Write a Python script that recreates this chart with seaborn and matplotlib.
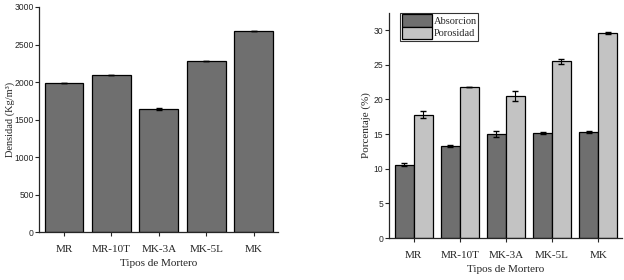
import pandas as pd
import numpy as np
import seaborn as sns
import matplotlib.pyplot as plt

morteros = ['MR', 'MR-10T', 'MK-3A', 'MK-5L', 'MK']
densidad = [1990, 2100, 1640, 2280, 2680]
densidad_err = [0, 0, 10, 0, 0]
absorcion = [10.6, 13.3, 15.0, 15.1, 15.3]
absorcion_err = [0.2, 0.1, 0.45, 0.15, 0.2]
porosidad = [17.8, 21.8, 20.5, 25.5, 29.6]
porosidad_err = [0.5, 0.05, 0.7, 0.35, 0.15]

dark = '#6f6f6f'
light = '#c3c3c3'

sns.set_style('ticks')
plt.rcParams['font.family'] = ['Liberation Serif', 'DejaVu Serif']

fig = plt.figure(figsize=(6.24, 2.8), dpi=100)
ax1 = fig.add_axes([0.063, 0.171, 0.383, 0.804])
ax2 = fig.add_axes([0.623, 0.15, 0.374, 0.804])

# densidad
df1 = pd.DataFrame({'Mortero': morteros, 'Densidad': densidad})
sns.barplot(x='Mortero', y='Densidad', data=df1, color=dark, edgecolor='black',
            linewidth=0.9, width=0.82, saturation=1, ax=ax1)
xs = [p.get_x() + p.get_width() / 2 for p in ax1.patches]
ax1.errorbar(xs, densidad, yerr=densidad_err, fmt='none', ecolor='black',
             elinewidth=0.8, capsize=2)
ax1.set_ylim(0, 3000)
ax1.set_xlim(-0.52, 4.52)
ax1.set_ylabel('Densidad (Kg/m³)', fontsize=7.5)
ax1.yaxis.set_label_coords(-0.1, 0.5)
ax1.set_xlabel('Tipos de Mortero', fontsize=8, labelpad=4)

# absorcion / porosidad
df2 = pd.DataFrame({
    'Mortero': morteros * 2,
    'Valor': absorcion + porosidad,
    'Serie': ['Absorcion'] * 5 + ['Porosidad'] * 5,
})
sns.barplot(x='Mortero', y='Valor', hue='Serie', data=df2,
            palette=[dark, light], edgecolor='black', linewidth=0.9,
            width=0.82, saturation=1, ax=ax2)
bars = [p for p in ax2.patches if p.get_height() > 0][:10]
bx = [p.get_x() + p.get_width() / 2 for p in bars]
ax2.errorbar(bx, absorcion + porosidad, yerr=absorcion_err + porosidad_err,
             fmt='none', ecolor='black', elinewidth=0.8, capsize=2)
ax2.set_ylim(0, 32.5)
ax2.set_xlim(-0.54, 4.52)
ax2.set_yticks([0, 5, 10, 15, 20, 25, 30])
ax2.set_ylabel('Porcentaje (%)', fontsize=8)
ax2.yaxis.set_label_coords(-0.075, 0.5)
ax2.set_xlabel('Tipos de Mortero', fontsize=8, labelpad=4)
leg = ax2.legend(loc='upper left', bbox_to_anchor=(0.05, 1.0), fontsize=7.5,
                 frameon=True, fancybox=False, edgecolor='black',
                 handlelength=2.9, handleheight=1.45, borderpad=0.15,
                 labelspacing=0.0, handletextpad=0.15, borderaxespad=0.0)
leg.get_frame().set_linewidth(0.8)

for ax in (ax1, ax2):
    sns.despine(ax=ax)
    ax.tick_params(axis='y', labelsize=6.2, length=3, width=0.8, pad=1)
    ax.tick_params(axis='x', labelsize=8, length=3, width=0.8, pad=6)
    for lab in ax.get_yticklabels():
        lab.set_family(['Liberation Sans', 'DejaVu Sans'])
    for s in ('left', 'bottom'):
        ax.spines[s].set_linewidth(0.9)

fig.savefig('out.png', dpi=100)
